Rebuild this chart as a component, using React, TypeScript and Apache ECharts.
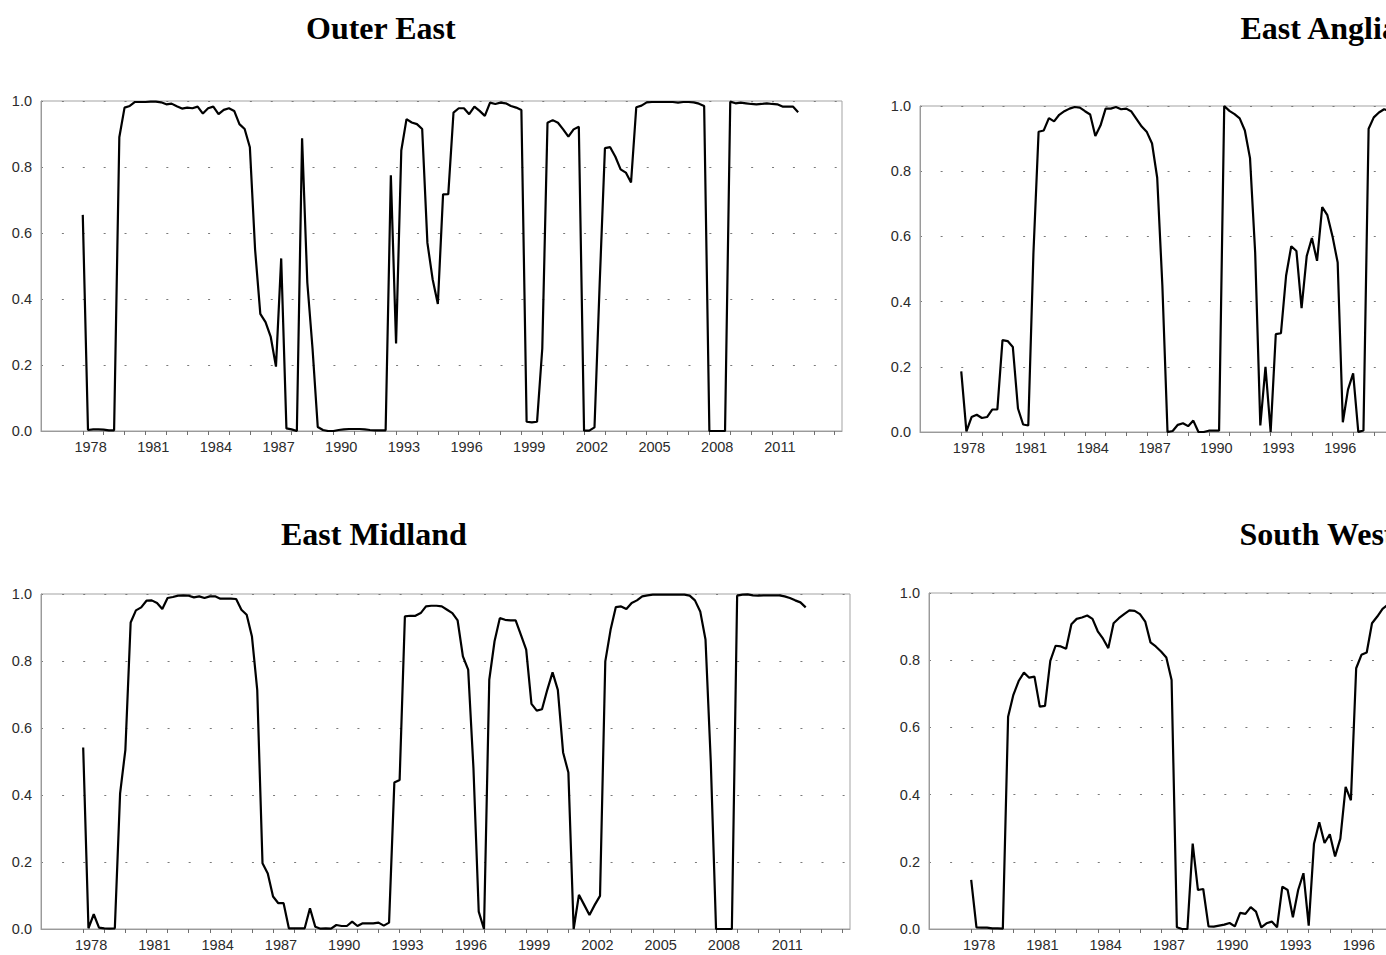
import React, { useEffect, useRef } from "react";
import * as echarts from "echarts";

// Quarterly observations starting 1978Q1
const START_YEAR = 1978;

const OUTER_EAST = [
  0.655, 0.003, 0.005, 0.005, 0.004, 0.002, 0.002, 0.89, 0.98, 0.985,
  0.997, 0.997, 0.997, 0.998, 0.998, 0.996, 0.99, 0.992, 0.984, 0.977,
  0.98, 0.978, 0.983, 0.962, 0.978, 0.983, 0.96, 0.973, 0.978, 0.97,
  0.93, 0.915, 0.86, 0.55, 0.355, 0.33, 0.285, 0.195, 0.523, 0.008,
  0.005, 0.0, 0.887, 0.45, 0.25, 0.012, 0.003, 0.0, 0.0, 0.003,
  0.005, 0.006, 0.006, 0.006, 0.005, 0.003, 0.002, 0.002, 0.002, 0.775,
  0.265, 0.85, 0.945, 0.935, 0.93, 0.915, 0.57, 0.46, 0.385, 0.717,
  0.718, 0.965, 0.978, 0.978, 0.96, 0.983, 0.97, 0.955, 0.995, 0.991,
  0.995, 0.993, 0.985, 0.98, 0.973, 0.028, 0.026, 0.028, 0.25, 0.934,
  0.942, 0.934, 0.914, 0.892, 0.914, 0.922, 0.001, 0.001, 0.011, 0.45,
  0.857, 0.86, 0.831, 0.793, 0.783, 0.753, 0.981, 0.986, 0.996, 0.997,
  0.997, 0.997, 0.997, 0.997, 0.995, 0.997, 0.997, 0.996, 0.992, 0.985,
  0.0, 0.0, 0.0, 0.0, 0.998, 0.993, 0.995, 0.993, 0.991, 0.99,
  0.991, 0.993, 0.991, 0.99, 0.983, 0.983, 0.983, 0.966,
];

const EAST_ANGLIA = [
  0.186, 0.002, 0.046, 0.053, 0.043, 0.046, 0.069, 0.069, 0.282, 0.279,
  0.261, 0.072, 0.023, 0.02, 0.55, 0.921, 0.925, 0.963, 0.953, 0.973,
  0.984, 0.992, 0.997, 0.995, 0.984, 0.974, 0.908, 0.94, 0.992, 0.992,
  0.997, 0.99, 0.992, 0.983, 0.96, 0.937, 0.92, 0.885, 0.78, 0.45,
  0.0, 0.003, 0.022, 0.027, 0.018, 0.035, 0.0, 0.0, 0.004, 0.004,
  0.004, 1.0, 0.985, 0.975, 0.962, 0.925, 0.84, 0.55, 0.02, 0.2,
  0.0, 0.3, 0.303, 0.48, 0.57, 0.555, 0.38, 0.54, 0.595, 0.525,
  0.69, 0.665, 0.6, 0.52, 0.03, 0.13, 0.18, 0.0, 0.005, 0.93,
  0.965, 0.98, 0.99, 0.985,
];

const EAST_MIDLAND = [
  0.542, 0.002, 0.044, 0.004, 0.002, 0.001, 0.002, 0.405, 0.535, 0.915,
  0.951, 0.96, 0.98, 0.981, 0.973, 0.955, 0.988, 0.991, 0.995, 0.996,
  0.995, 0.99, 0.993, 0.988, 0.993, 0.993, 0.986, 0.986, 0.986, 0.985,
  0.953, 0.938, 0.873, 0.714, 0.196, 0.166, 0.097, 0.077, 0.077, 0.002,
  0.002, 0.002, 0.002, 0.062, 0.007, 0.001, 0.002, 0.001, 0.012, 0.009,
  0.009, 0.022, 0.009, 0.017, 0.017, 0.017, 0.019, 0.01, 0.019, 0.437,
  0.445, 0.933, 0.935, 0.935, 0.943, 0.963, 0.965, 0.965, 0.963, 0.953,
  0.943, 0.921, 0.814, 0.774, 0.48, 0.052, 0.0, 0.744, 0.859, 0.928,
  0.923, 0.921, 0.921, 0.878, 0.834, 0.672, 0.652, 0.656, 0.714, 0.766,
  0.714, 0.527, 0.467, 0.0, 0.102, 0.072, 0.042, 0.072, 0.099, 0.799,
  0.893, 0.961, 0.963, 0.955, 0.973, 0.981, 0.993, 0.996, 0.998, 0.998,
  0.998, 0.998, 0.998, 0.998, 0.998, 0.995, 0.981, 0.948, 0.864, 0.5,
  0.0, 0.0, 0.0, 0.0, 0.995, 0.998, 0.999, 0.996, 0.995, 0.996,
  0.996, 0.996, 0.996, 0.993, 0.988, 0.981, 0.975, 0.96,
];

const SOUTH_WEST = [
  0.146, 0.005, 0.004, 0.004, 0.002, 0.002, 0.001, 0.632, 0.697, 0.738,
  0.763, 0.748, 0.751, 0.662, 0.664, 0.798, 0.843, 0.841, 0.834, 0.907,
  0.923, 0.927, 0.933, 0.923, 0.886, 0.864, 0.836, 0.91, 0.925, 0.937,
  0.948, 0.947, 0.937, 0.915, 0.853, 0.841, 0.826, 0.808, 0.741, 0.005,
  0.0, 0.0, 0.254, 0.116, 0.119, 0.008, 0.007, 0.01, 0.013, 0.018,
  0.008, 0.048, 0.045, 0.065, 0.052, 0.005, 0.017, 0.022, 0.005, 0.126,
  0.116, 0.035, 0.116, 0.166, 0.01, 0.254, 0.318, 0.256, 0.282, 0.216,
  0.269, 0.423, 0.383, 0.776, 0.816, 0.823, 0.91, 0.93, 0.953, 0.965,
];

const YEAR_LABELS = [1978, 1981, 1984, 1987, 1990, 1993, 1996, 1999, 2002, 2005, 2008, 2011];
// Right-hand panels are cropped by the page edge: only these labels are visible there
const YEAR_LABELS_CROPPED = [1978, 1981, 1984, 1987, 1990, 1993, 1996];
const TITLES = ["Outer East", "East Anglia", "East Midland", "South West"];

const X_MIN = 1976;
const X_MAX = 2014.35;

const TICK_YEARS: number[] = [];
for (let y = 1978; y <= 2014; y++) TICK_YEARS.push(y);

const PANELS = [
  { title: TITLES[0], data: OUTER_EAST, labels: YEAR_LABELS, left: 41, top: 101, width: 801, height: 330, titleX: 306, titleY: 28 },
  { title: TITLES[1], data: EAST_ANGLIA, labels: YEAR_LABELS_CROPPED, left: 920, top: 106, width: 791, height: 326, titleX: 1240.5, titleY: 28 },
  { title: TITLES[2], data: EAST_MIDLAND, labels: YEAR_LABELS, left: 41, top: 594, width: 809, height: 335, titleX: 281, titleY: 533.5 },
  { title: TITLES[3], data: SOUTH_WEST, labels: YEAR_LABELS_CROPPED, left: 929, top: 593, width: 809, height: 336, titleX: 1239.5, titleY: 533.5 },
];

const SANS = '"Liberation Sans", Arial, Helvetica, sans-serif';
const SERIF = '"Liberation Serif", "Times New Roman", serif';

// The chart canvas is wider than the page; the right-hand panels are cropped by the page edge.
const CANVAS_W = 1800;
const CANVAS_H = 955;

export default function App() {
  const ref = useRef<HTMLDivElement>(null);

  useEffect(() => {
    if (!ref.current) return;
    const chart = echarts.init(ref.current, undefined, { renderer: "svg" });

    const grid = PANELS.map((p) => ({
      left: p.left,
      top: p.top,
      width: p.width,
      height: p.height,
      show: true,
      borderColor: "#a3a3a3",
      borderWidth: 1,
      backgroundColor: "transparent",
    }));

    const xAxis = PANELS.map((p, i) => ({
      type: "value",
      gridIndex: i,
      min: X_MIN,
      max: X_MAX,
      axisLine: { show: true, onZero: false, lineStyle: { color: "#9a9a9a", width: 1 } },
      axisTick: {
        show: true,
        customValues: TICK_YEARS,
        length: 4,
        lineStyle: { color: "#6f6f6f", width: 1 },
      },
      axisLabel: {
        show: true,
        customValues: p.labels.map((y) => y + 0.375),
        formatter: (v: number) => String(Math.floor(v + 1e-6)),
        fontSize: 14.5,
        fontFamily: SANS,
        color: "#2b2b2b",
        margin: 8,
      },
      splitLine: { show: false },
    }));

    const yAxis = PANELS.map((p, i) => {
      const pxPerYear = p.width / (X_MAX - X_MIN);
      return {
        type: "value",
        gridIndex: i,
        min: 0,
        max: 1,
        interval: 0.2,
        axisLine: { show: true, lineStyle: { color: "#9a9a9a", width: 1 } },
        axisTick: { show: false },
        axisLabel: {
          formatter: (v: number) => v.toFixed(1),
          fontSize: 14.5,
          fontFamily: SANS,
          color: "#2b2b2b",
          margin: 9,
        },
        splitLine: {
          show: true,
          lineStyle: { color: "#7a7a7a", width: 1, type: [2, pxPerYear - 2] },
        },
      };
    });

    const series = PANELS.map((p, i) => ({
      type: "line",
      xAxisIndex: i,
      yAxisIndex: i,
      data: p.data.map((v, k) => [START_YEAR + k / 4, v]),
      showSymbol: false,
      symbol: "none",
      lineStyle: { color: "#000000", width: 2.2 },
      clip: true,
    }));

    const graphic = PANELS.map((p) => ({
      type: "text",
      x: p.titleX,
      y: p.titleY,
      style: {
        text: p.title,
        fontSize: 32,
        fontWeight: "bold",
        fontFamily: SERIF,
        fill: "#000",
        textAlign: "left",
        textVerticalAlign: "middle",
      },
    }));

    chart.setOption({
      animation: false,
      backgroundColor: "#ffffff",
      grid,
      xAxis,
      yAxis,
      series,
      graphic,
    } as any);

    return () => chart.dispose();
  }, []);

  return (
    <div
      style={{
        position: "fixed",
        left: 0,
        top: 0,
        width: 1386,
        height: 955,
        overflow: "hidden",
        background: "#fff",
      }}
    >
      <div ref={ref} style={{ width: CANVAS_W, height: CANVAS_H }} />
    </div>
  );
}
